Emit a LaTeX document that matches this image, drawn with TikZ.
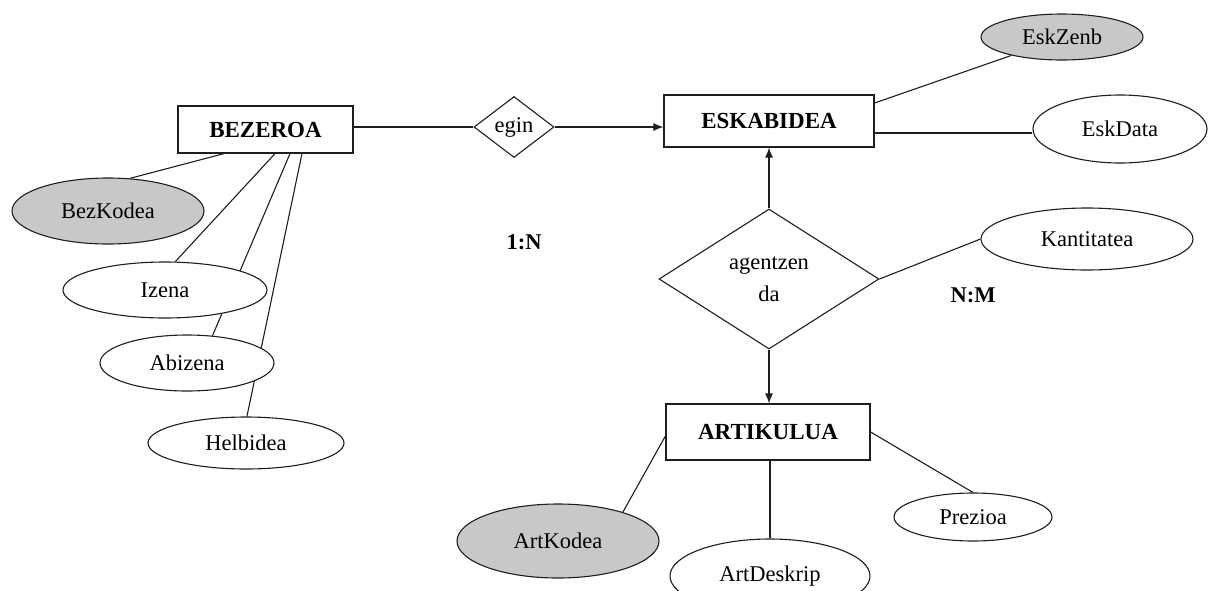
\documentclass[tikz,border=0pt]{standalone}
\usepackage{fontspec}
\setmainfont{Liberation Serif}
\usetikzlibrary{shapes.geometric,arrows.meta}
\pgfdeclarelayer{back}
\pgfsetlayers{back,main}
\definecolor{ink}{RGB}{30,30,30}
\definecolor{keyfill}{RGB}{200,200,200}
\tikzset{
  entity/.style={draw=ink, line width=1.2pt, fill=white, rectangle, inner sep=0pt,
                 font=\fontsize{23}{27}\selectfont\bfseries},
  attr/.style={draw=ink, line width=1.1pt, fill=white, ellipse, inner sep=0pt,
               font=\fontsize{22.5}{26}\selectfont},
  keyattr/.style={attr, fill=keyfill},
  rel/.style={draw=ink, line width=1.1pt, fill=white, diamond, inner sep=0pt,
              font=\fontsize{22.5}{32}\selectfont},
  link/.style={draw=ink, line width=1.1pt},
  arr/.style={link, -{Latex[length=10pt,width=8pt]}},
  card/.style={font=\fontsize{22.5}{26}\selectfont\bfseries, inner sep=0pt},
}
\begin{document}
\begin{tikzpicture}[x=1pt, y=-1pt]
\useasboundingbox (0,0) rectangle (1208,590);
\clip (0,0) rectangle (1208,590);

% entities
\node[entity, minimum width=175pt, minimum height=47pt] (bez) at (265.5,129.5) {BEZEROA};
\node[entity, minimum width=210pt, minimum height=52pt] (esk) at (769,121) {ESKABIDEA};
\node[entity, minimum width=204pt, minimum height=56pt] (art) at (768,432) {ARTIKULUA};

% relationships
\node[rel, minimum width=80pt, minimum height=61pt] (eg) at (514,127) {egin};
\node[rel, minimum width=220pt, minimum height=140pt,
      label={[align=center, font=\fontsize{22.5}{32}\selectfont]center:agentzen\\da}] (ag) at (769,279) {};

% attributes of BEZEROA
\node[keyattr, minimum width=192pt, minimum height=66pt] (bzk) at (108,211) {BezKodea};
\node[attr, minimum width=204pt, minimum height=56pt] (iz) at (165,290) {Izena};
\node[attr, minimum width=174pt, minimum height=56pt] (abz) at (187,363) {Abizena};
\node[attr, minimum width=196pt, minimum height=52pt] (hb) at (246,443) {Helbidea};

% attributes of ESKABIDEA
\node[keyattr, minimum width=162pt, minimum height=46pt] (ezb) at (1062,37) {EskZenb};
\node[attr, minimum width=174pt, minimum height=68pt] (ed) at (1120,129) {EskData};

% attribute of the relationship
\node[attr, minimum width=212pt, minimum height=62pt] (kt) at (1087,239) {Kantitatea};

% attributes of ARTIKULUA
\node[keyattr, minimum width=202pt, minimum height=74pt] (ak) at (558,541) {ArtKodea};
\node[attr, minimum width=200pt, minimum height=74pt] (ad) at (770,576) {ArtDeskrip};
\node[attr, minimum width=158pt, minimum height=48pt] (prz) at (973,517) {Prezioa};

% cardinalities
\node[card] (c1) at (524,242) {1:N};
\node[card] (c2) at (973,295) {N:M};

\begin{pgfonlayer}{back}
  \draw[link] ([xshift=-41.5pt]bez.south) -- (bzk.56);
  \draw[link] ([xshift=9.5pt]bez.south) -- (iz.70);
  \draw[link] ([xshift=24.5pt]bez.south) -- (abz.47);
  \draw[link] ([xshift=36.5pt]bez.south) -- (hb.88);

  \draw[link] (eg.west -| bez.east) -- (eg.west);
  \draw[arr] (eg.east) -- (eg.east -| esk.west);

  \draw[link] ([yshift=18pt]esk.east) -- (ezb.200);
  \draw[link] ([yshift=-12pt]esk.east) -- ([yshift=-12pt]esk.east -| ed.west);

  \draw[arr] (ag.north) -- (ag.north |- esk.south);
  \draw[arr] (ag.south) -- (ag.south |- art.north);
  \draw[link] (ag.east) -- (kt.west);

  \draw[link] ([yshift=-4pt]art.west) -- (ak.24);
  \draw[link] (ad.north |- art.south) -- (ad.north);
  \draw[link] (art.east) -- (prz.north);
\end{pgfonlayer}
\end{tikzpicture}
\end{document}
